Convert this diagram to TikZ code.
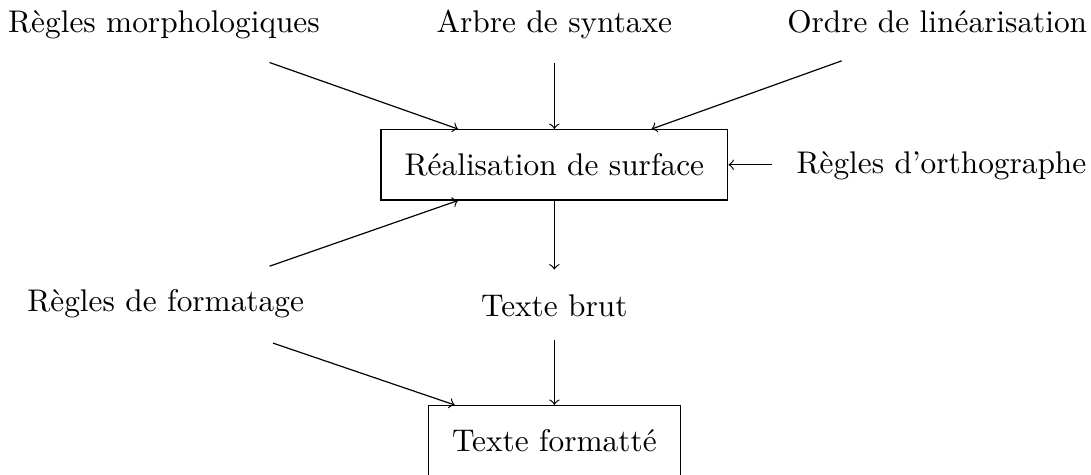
\documentclass[tikz,border=0pt]{standalone}

\tikzset{
  every node/.style={font=\fontsize{10.55pt}{12.5pt}\selectfont},
  etape/.style={draw, rectangle, inner sep=8pt},
  entree/.style={anchor=base},
}

\begin{document}
\begin{tikzpicture}
      \useasboundingbox (0, 0) rectangle (12.91, -5.61);

      % the two processing boxes
      \node [etape] (surface) at (6.56, -1.95) {Réalisation de surface};
      \node [etape] (formatte) at (6.56, -5.213) {Texte formatté};

      % inputs and intermediate text
      \node [entree] (morpho) at (1.94, -0.39) {Règles morphologiques};
      \node [entree] (syntaxe) at (6.56, -0.39) {Arbre de syntaxe};
      \node [entree] (linear) at (11.09, -0.39) {Ordre de linéarisation};
      \node [entree] (ortho) at (11.14, -2.05) {Règles d'orthographe};
      \node [entree] (formatage) at (1.96, -3.69) {Règles de formatage};
      \node [entree] (brut) at (6.56, -3.74) {Texte brut};

      \coordinate (morpho-out) at (3.19, -0.74);
      \coordinate (linear-out) at (9.96, -0.72);
      \coordinate (ortho-out) at (9.13, -1.95);
      \coordinate (form-haut) at (3.19, -3.15);
      \coordinate (form-bas) at (3.23, -4.06);

      \draw [->] (morpho-out) -- ([xshift=-1.14cm]surface.north);
      \draw [->] ([yshift=-0.36cm]syntaxe.base) -- (surface.north);
      \draw [->] (linear-out) -- ([xshift=1.15cm]surface.north);
      \draw [->] (ortho-out) -- (surface.east);
      \draw [->] (form-haut) -- ([xshift=-1.14cm]surface.south);

      \draw [->] (surface.south) -- ([yshift=0.55cm]brut.base);
      \draw [->] ([yshift=-0.28cm]brut.base) -- (formatte.north);
      \draw [->] (form-bas) -- ([xshift=-1.18cm]formatte.north);
    \end{tikzpicture}
\end{document}
